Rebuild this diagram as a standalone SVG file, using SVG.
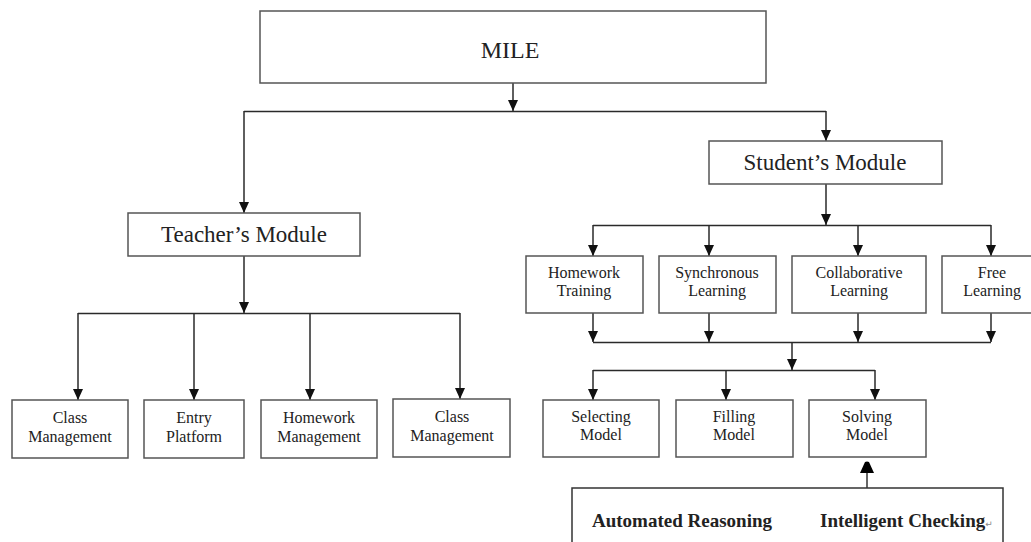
<svg xmlns="http://www.w3.org/2000/svg" width="1031" height="542" viewBox="0 0 1031 542">
<style>
.box{fill:#fff;stroke:#555;stroke-width:1.5}
.ln{fill:none;stroke:#2a2a2a;stroke-width:1.5}
.arr{marker-end:url(#ah)}
text{font-family:"Liberation Serif","Times New Roman",serif;fill:#222;text-anchor:middle}
.s{font-size:16px}
.m{font-size:23px}
.b{font-size:19px;font-weight:bold;text-anchor:start}
</style>
<defs>
<marker id="ah" markerUnits="userSpaceOnUse" markerWidth="11" markerHeight="10" refX="11" refY="5" orient="auto">
<path d="M0,0 L11,5 L0,10 z" fill="#111"/>
</marker>
<marker id="ah2" markerUnits="userSpaceOnUse" markerWidth="12" markerHeight="16" refX="11" refY="8" orient="auto">
<path d="M0,1 L11,6 Q12,8 11,10 L0,15 z" fill="#000"/>
</marker>
</defs>
<rect width="1031" height="542" fill="#fff"/>
<g id="connectors">
<line class="ln arr" x1="513" y1="83" x2="513" y2="111"/>
<line class="ln" x1="244" y1="111.5" x2="826" y2="111.5"/>
<line class="ln arr" x1="244" y1="111" x2="244" y2="213"/>
<line class="ln arr" x1="826" y1="111" x2="826" y2="141"/>
<line class="ln arr" x1="244" y1="256" x2="244" y2="313"/>
<line class="ln" x1="78" y1="313.5" x2="460" y2="313.5"/>
<line class="ln arr" x1="78" y1="313" x2="78" y2="400"/>
<line class="ln arr" x1="194" y1="313" x2="194" y2="400"/>
<line class="ln arr" x1="310" y1="313" x2="310" y2="400"/>
<line class="ln arr" x1="460" y1="313" x2="460" y2="399"/>
<line class="ln arr" x1="826" y1="184" x2="826" y2="225"/>
<line class="ln" x1="593" y1="225.5" x2="991" y2="225.5"/>
<line class="ln arr" x1="593" y1="225" x2="593" y2="256"/>
<line class="ln arr" x1="709" y1="225" x2="709" y2="256"/>
<line class="ln arr" x1="858" y1="225" x2="858" y2="256"/>
<line class="ln arr" x1="991" y1="225" x2="991" y2="256"/>
<line class="ln arr" x1="593" y1="313" x2="593" y2="342"/>
<line class="ln arr" x1="709" y1="313" x2="709" y2="342"/>
<line class="ln arr" x1="858" y1="313" x2="858" y2="342"/>
<line class="ln arr" x1="991" y1="313" x2="991" y2="342"/>
<line class="ln" x1="593" y1="342.5" x2="991" y2="342.5"/>
<line class="ln arr" x1="792" y1="342" x2="792" y2="370"/>
<line class="ln" x1="593" y1="370.5" x2="875" y2="370.5"/>
<line class="ln arr" x1="593" y1="370" x2="593" y2="400"/>
<line class="ln arr" x1="726" y1="370" x2="726" y2="400"/>
<line class="ln arr" x1="875" y1="370" x2="875" y2="400"/>
<line class="ln" x1="867" y1="488" x2="867" y2="462" stroke="#666" style="stroke:#666;stroke-width:2;marker-end:url(#ah2)"/>
</g>
<g id="mile"><rect class="box" x="260" y="11" width="506" height="72"/><text x="510" y="58" style="font-size:24px">MILE</text></g>
<g id="teacher"><rect class="box" x="128" y="213" width="232" height="43"/><text class="m" x="244" y="242">Teacher’s Module</text></g>
<g id="student"><rect class="box" x="709" y="141" width="233" height="43"/><text class="m" x="825" y="170">Student’s Module</text></g>
<g id="t-class1"><rect class="box" x="12" y="400" width="116" height="58"/><text class="s" x="70" y="423">Class</text><text class="s" x="70" y="442">Management</text></g>
<g id="t-entry"><rect class="box" x="144" y="400" width="100" height="58"/><text class="s" x="194" y="423">Entry</text><text class="s" x="194" y="442">Platform</text></g>
<g id="t-homework"><rect class="box" x="261" y="400" width="116" height="58"/><text class="s" x="319" y="423">Homework</text><text class="s" x="319" y="442">Management</text></g>
<g id="t-class2"><rect class="box" x="393" y="399" width="117" height="58"/><text class="s" x="452" y="422">Class</text><text class="s" x="452" y="441">Management</text></g>
<g id="s-homework"><rect class="box" x="526" y="256" width="117" height="57"/><text class="s" x="584" y="278">Homework</text><text class="s" x="584" y="296">Training</text></g>
<g id="s-sync"><rect class="box" x="659" y="256" width="117" height="57"/><text class="s" x="717" y="278">Synchronous</text><text class="s" x="717" y="296">Learning</text></g>
<g id="s-collab"><rect class="box" x="792" y="256" width="134" height="57"/><text class="s" x="859" y="278">Collaborative</text><text class="s" x="859" y="296">Learning</text></g>
<g id="s-free"><rect class="box" x="942" y="256" width="100" height="57"/><text class="s" x="992" y="278">Free</text><text class="s" x="992" y="296">Learning</text></g>
<g id="m-select"><rect class="box" x="543" y="400" width="116" height="57"/><text class="s" x="601" y="422">Selecting</text><text class="s" x="601" y="440">Model</text></g>
<g id="m-fill"><rect class="box" x="676" y="400" width="117" height="57"/><text class="s" x="734" y="422">Filling</text><text class="s" x="734" y="440">Model</text></g>
<g id="m-solve"><rect class="box" x="809" y="400" width="117" height="57"/><text class="s" x="867" y="422">Solving</text><text class="s" x="867" y="440">Model</text></g>
<g id="reasoning"><rect class="box" x="572" y="488" width="431" height="70" style="stroke:#333"/><text class="b" x="592" y="527">Automated Reasoning</text><text class="b" x="820" y="527">Intelligent Checking<tspan style="font-family:'DejaVu Sans',sans-serif;font-size:9px;font-weight:normal;fill:#888">↵</tspan></text></g>
</svg>
